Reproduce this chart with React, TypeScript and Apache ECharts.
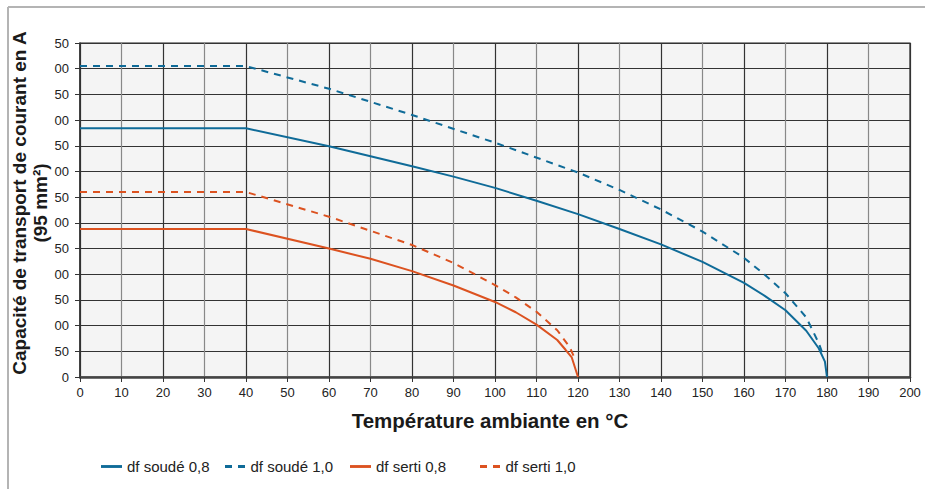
import React, { useEffect, useRef } from "react";
import * as echarts from "echarts";

const yTickLabels = ["0", "50", "00", "50", "00", "50", "00", "50", "00", "50", "00", "50", "00", "50"];

const seriesNames = ["df soudé 0,8", "df soudé 1,0", "df serti 0,8", "df serti 1,0"];

const soude08X = [0, 40, 60, 80, 90, 100, 110, 120, 130, 140, 150, 160, 165, 170, 175, 178, 179.5, 180];
const soude08Y = [484, 484, 449, 410, 390, 368, 343, 317, 288, 258, 224, 183, 158, 130, 90, 56, 30, 0];

const soude10X = [0, 40, 60, 80, 100, 120, 130, 140, 150, 160, 165, 170, 175, 178, 179.3];
const soude10Y = [605, 605, 561, 510, 456, 398, 364, 326, 283, 232, 199, 163, 116, 66, 38];

const serti08X = [0, 40, 60, 70, 80, 90, 100, 105, 110, 115, 117, 118.5, 120];
const serti08Y = [288, 288, 250, 230, 206, 178, 146, 126, 102, 72, 53, 38, 0];

const serti10X = [0, 40, 60, 80, 90, 100, 105, 110, 115, 118, 119];
const serti10Y = [360, 360, 312, 257, 222, 179, 155, 127, 91, 58, 40];

const BLUE = "#0f6b98";
const ORANGE = "#dc5220";

const SOLID_ICON = "path://M0,0H22V3H0Z";
const DASH_ICON = "path://M0,0H7V3H0Z M13,0H20V3H13Z";

function pairs(xs: number[], ys: number[]) {
  return xs.map((x, i) => [x, ys[i]]);
}

export default function App() {
  const ref = useRef<HTMLDivElement>(null);
  useEffect(() => {
    if (!ref.current) return;
    const chart = echarts.init(ref.current, null, { renderer: "svg" });
    const font = "'Liberation Sans', Arial, Helvetica, sans-serif";
    const legendPos = [101, 225, 350, 480];
    const dashedFlags = [false, true, false, true];
    const mk = (name: string, data: number[][], color: string, dashed: boolean) => ({
      name,
      type: "line",
      data,
      showSymbol: false,
      symbol: "none",
      smooth: false,
      lineStyle: { color, width: 2, type: dashed ? [7, 6] : "solid" },
      itemStyle: { color },
    });
    chart.setOption({
      animation: false,
      backgroundColor: "#ffffff",
      textStyle: { fontFamily: font },
      grid: {
        left: 80,
        right: 15,
        top: 43,
        bottom: 112,
        show: true,
        backgroundColor: "#f4f4f4",
        borderColor: "#222",
        borderWidth: 1.2,
      },
      xAxis: {
        type: "value",
        min: 0,
        max: 200,
        interval: 10,
        axisLine: { show: true, lineStyle: { color: "#444", width: 2.5 } },
        axisTick: { show: true, inside: false, length: 5, lineStyle: { color: "#333" } },
        axisLabel: { color: "#222", fontSize: 13, margin: 9, fontFamily: font },
        splitLine: { show: true, lineStyle: { color: ["#333", "#888"], width: 1.2 } },
      },
      yAxis: {
        type: "value",
        min: 0,
        max: 650,
        interval: 50,
        axisLine: { show: true, lineStyle: { color: "#333", width: 1.5 } },
        axisTick: { show: true, inside: false, length: 5, lineStyle: { color: "#333" } },
        axisLabel: {
          color: "#222",
          fontSize: 13,
          margin: 11,
          fontFamily: font,
          formatter: (v: number) => yTickLabels[Math.round(v / 50)] ?? "",
        },
        splitLine: { show: true, lineStyle: { color: "#333", width: 1.1 } },
      },
      legend: seriesNames.map((n, i) => ({
        data: [{ name: n, icon: dashedFlags[i] ? DASH_ICON : SOLID_ICON }],
        left: legendPos[i],
        top: 459,
        padding: 0,
        itemWidth: 21,
        itemHeight: 3,
        itemGap: 5,
        textStyle: { fontSize: 15, color: "#222", fontFamily: font },
      })),
      graphic: [
        {
          type: "line",
          shape: { x1: 8, y1: 7, x2: 925, y2: 7 },
          style: { stroke: "#b4b4b4", lineWidth: 2 },
        },
        {
          type: "line",
          shape: { x1: 8, y1: 7, x2: 8, y2: 489 },
          style: { stroke: "#b4b4b4", lineWidth: 2 },
        },
        {
          type: "text",
          x: 30,
          y: 203,
          rotation: Math.PI / 2,
          style: {
            text: "Capacité de transport de courant en A\n(95 mm²)",
            align: "center",
            verticalAlign: "middle",
            font: "bold 19px " + font,
            lineHeight: 21,
            fill: "#1a1a1a",
          },
        },
        {
          type: "text",
          x: 490,
          y: 420,
          style: {
            text: "Température ambiante en °C",
            align: "center",
            verticalAlign: "middle",
            font: "bold 20.5px " + font,
            fill: "#1a1a1a",
          },
        },
      ],
      series: [
        mk(seriesNames[0], pairs(soude08X, soude08Y), BLUE, false),
        mk(seriesNames[1], pairs(soude10X, soude10Y), BLUE, true),
        mk(seriesNames[2], pairs(serti08X, serti08Y), ORANGE, false),
        mk(seriesNames[3], pairs(serti10X, serti10Y), ORANGE, true),
      ],
    });
    return () => chart.dispose();
  }, []);
  return (
    <div
      ref={ref}
      style={{ position: "fixed", left: 0, top: 0, width: 925, height: 489 }}
    />
  );
}
